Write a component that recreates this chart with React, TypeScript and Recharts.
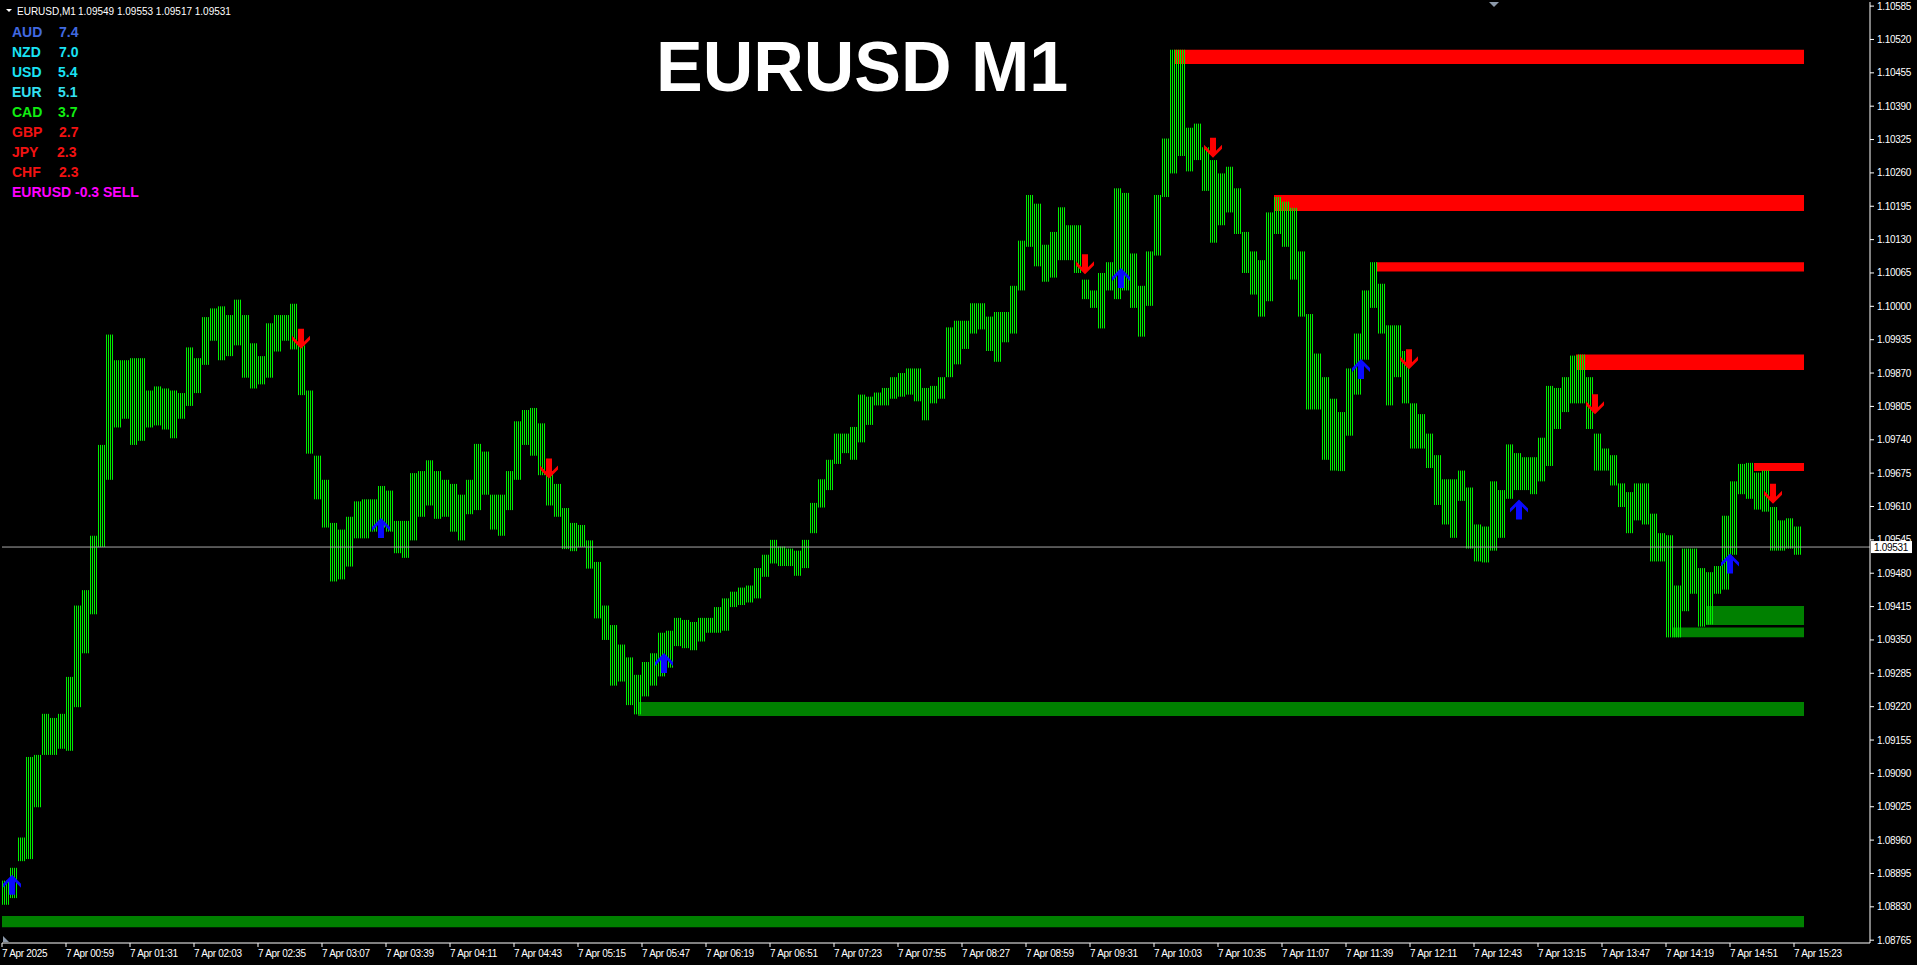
import {
  Bar,
  ComposedChart,
  ReferenceArea,
  ReferenceLine,
  Scatter,
  XAxis,
  YAxis,
} from "recharts";

const W = 1917;
const H = 965;
const UI_FONT = "'Liberation Sans', Arial, sans-serif";

// one aggregated bar every 4 minutes, first bar starts at 00:27
const firstMinute = 27;
const barMinutes = 4;

const highs = [
  1.08881, 1.08906, 1.08965, 1.09122, 1.09126, 1.09206, 1.09198, 1.09206, 1.09278, 1.09417,
  1.09447, 1.09553, 1.0973, 1.09945, 1.09895, 1.09895, 1.09899, 1.09899, 1.09836, 1.09844,
  1.0984, 1.09836, 1.09831, 1.0992, 1.09899, 1.09979, 1.09996, 1.1, 1.09983, 1.10013,
  1.09983, 1.09928, 1.09903, 1.09967, 1.09983, 1.09983, 1.10005, 1.09924, 1.09836, 1.09709,
  1.09662, 1.09578, 1.09565, 1.0959, 1.0962, 1.09624, 1.09624, 1.0965, 1.09641, 1.09582,
  1.09582, 1.09675, 1.09679, 1.097, 1.09679, 1.09662, 1.09654, 1.09633, 1.09662, 1.09732,
  1.09717, 1.09633, 1.09633, 1.09679, 1.09776, 1.09798, 1.09802, 1.09772, 1.09679, 1.09654,
  1.09607, 1.09578, 1.09574, 1.09544, 1.09502, 1.09417, 1.09379, 1.09341, 1.09316, 1.09282,
  1.09307, 1.09324,
  1.09364, 1.09368, 1.09393, 1.09389, 1.09385, 1.09393, 1.09393, 1.09414, 1.09431, 1.09444,
  1.09452, 1.09456, 1.0949, 1.09516, 1.09545, 1.09532, 1.09528, 1.09524, 1.09545, 1.09617,
  1.09663, 1.09701, 1.09752, 1.09752, 1.09765, 1.09828, 1.09824, 1.09832, 1.09841, 1.09862,
  1.0987, 1.09879, 1.09879, 1.09841, 1.09845, 1.09862, 1.09959, 1.09972, 1.09972, 1.10006,
  1.10006, 1.0998, 1.09989, 1.09989, 1.1004, 1.10128, 1.10217, 1.102, 1.1012, 1.10145,
  1.10193, 1.10158, 1.10158, 1.10052, 1.10031, 1.10065, 1.10086, 1.1023, 1.10221, 1.10103,
  1.1004, 1.10107, 1.10217, 1.10327, 1.105, 1.105, 1.10348, 1.10356, 1.1031, 1.10285,
  1.10259, 1.10272, 1.1023, 1.10145, 1.10107, 1.1009, 1.10183, 1.10213,
  1.10204, 1.10192, 1.10107, 1.09985, 1.09908, 1.09862, 1.0982, 1.09794, 1.09879, 1.09947,
  1.10031, 1.10086, 1.10044, 1.09963, 1.09963, 1.09913, 1.09811, 1.0979, 1.09752, 1.0971,
  1.09663, 1.09663, 1.0968, 1.09647, 1.09575, 1.09571, 1.09659, 1.09642, 1.09731, 1.09714,
  1.09706, 1.09706, 1.09744, 1.09845, 1.09841, 1.09862, 1.09904, 1.09906, 1.09862, 1.09752,
  1.09723, 1.0971, 1.09655, 1.09638, 1.09655, 1.09655, 1.09596, 1.09558, 1.09554, 1.09456,
  1.09528, 1.09528, 1.0949, 1.09482, 1.09494, 1.09592, 1.09659, 1.09693, 1.09695, 1.09676,
  1.0968, 1.09609, 1.09583, 1.09587, 1.09571,
];

const lows = [
  1.08834, 1.08847, 1.08919, 1.08923, 1.09024, 1.09126, 1.09126, 1.09138, 1.09134, 1.09219,
  1.09324, 1.094, 1.09531, 1.09662, 1.09764, 1.09781, 1.0973, 1.09738, 1.09764, 1.09768,
  1.0976, 1.09743, 1.09781, 1.09806, 1.09831, 1.09886, 1.09933, 1.09895, 1.09903, 1.09924,
  1.09861, 1.0984, 1.09848, 1.09861, 1.09912, 1.09933, 1.09916, 1.09827, 1.09713, 1.09624,
  1.09569, 1.09464, 1.09468, 1.09493, 1.09548, 1.09548, 1.09561, 1.09569, 1.09561, 1.09519,
  1.0951, 1.09544, 1.0959, 1.09612, 1.09586, 1.0959, 1.09561, 1.09544, 1.09595, 1.09603,
  1.09633, 1.09565, 1.09553, 1.09603, 1.09662, 1.0973, 1.09709, 1.09671, 1.09612, 1.0959,
  1.09527, 1.09523, 1.09531, 1.09489, 1.09392, 1.0935, 1.09261, 1.09269, 1.09223, 1.09205,
  1.0924, 1.09261,
  1.09279, 1.09296, 1.09338, 1.09334, 1.0933, 1.09347, 1.09364, 1.09364, 1.09368, 1.09414,
  1.09418, 1.09423, 1.09431, 1.09473, 1.09499, 1.09494, 1.09494, 1.09475, 1.0949, 1.09558,
  1.09608, 1.09642, 1.09693, 1.09714, 1.09701, 1.09735, 1.09769, 1.09807, 1.09807, 1.0982,
  1.09824, 1.09828, 1.09815, 1.09778, 1.09811, 1.0982, 1.09862, 1.09887, 1.09917, 1.09947,
  1.09955, 1.09913, 1.09892, 1.0993, 1.09947, 1.10031, 1.10116, 1.10078, 1.10048, 1.10056,
  1.1009, 1.1009, 1.10065, 1.10014, 1.09997, 1.09957, 1.10031, 1.10014, 1.10031, 1.09997,
  1.09941, 1.10001, 1.10099, 1.10213, 1.10259, 1.10293, 1.10263, 1.10285, 1.10225, 1.10124,
  1.10158, 1.10183, 1.10141, 1.10065, 1.10023, 1.0998, 1.1001, 1.10141,
  1.10116, 1.10052, 1.0998, 1.09799, 1.09799, 1.09701, 1.0968, 1.09679, 1.09748, 1.09828,
  1.09896, 1.09997, 1.09947, 1.09807, 1.09862, 1.09811, 1.09723, 1.09723, 1.09685, 1.09613,
  1.09575, 1.09549, 1.09621, 1.09528, 1.09503, 1.09501, 1.09524, 1.09549, 1.09625, 1.09642,
  1.09642, 1.09634, 1.09659, 1.09689, 1.09761, 1.09794, 1.09811, 1.09811, 1.09761, 1.0968,
  1.0968, 1.09651, 1.09609, 1.09558, 1.09583, 1.09575, 1.09503, 1.09503, 1.09355, 1.09355,
  1.09406, 1.0944, 1.09376, 1.0938, 1.0944, 1.09448, 1.09516, 1.09634, 1.09625, 1.09604,
  1.096, 1.09524, 1.09524, 1.09528, 1.09516,
];

const lastPrice = 1.09531;

const timeTicks = [
  27, 59, 91, 123, 155, 187, 219, 251, 283, 315, 347, 379, 411, 443, 475,
  507, 539, 571, 603, 635, 667, 699, 731, 763, 795, 827, 859, 891, 923,
];
const timeLabels = [
  "7 Apr 2025", "7 Apr 00:59", "7 Apr 01:31", "7 Apr 02:03", "7 Apr 02:35",
  "7 Apr 03:07", "7 Apr 03:39", "7 Apr 04:11", "7 Apr 04:43", "7 Apr 05:15",
  "7 Apr 05:47", "7 Apr 06:19", "7 Apr 06:51", "7 Apr 07:23", "7 Apr 07:55",
  "7 Apr 08:27", "7 Apr 08:59", "7 Apr 09:31", "7 Apr 10:03", "7 Apr 10:35",
  "7 Apr 11:07", "7 Apr 11:39", "7 Apr 12:11", "7 Apr 12:43", "7 Apr 13:15",
  "7 Apr 13:47", "7 Apr 14:19", "7 Apr 14:51", "7 Apr 15:23",
];

const priceTicks = [
  1.08765, 1.0883, 1.08895, 1.0896, 1.09025, 1.0909, 1.09155, 1.0922, 1.09285, 1.0935,
  1.09415, 1.0948, 1.09545, 1.0961, 1.09675, 1.0974, 1.09805, 1.0987, 1.09935, 1.1,
  1.10065, 1.1013, 1.10195, 1.1026, 1.10325, 1.1039, 1.10455, 1.1052, 1.10585,
];

const zoneEnd = 928;
const resistanceZones = [
  { from: 613, top: 1.105, bottom: 1.10472 },
  { from: 663, top: 1.10217, bottom: 1.10186 },
  { from: 714, top: 1.10086, bottom: 1.10068 },
  { from: 814, top: 1.09906, bottom: 1.09876 },
  { from: 903, top: 1.09695, bottom: 1.09679 },
];
const supportZones = [
  { from: 27, top: 1.08812, bottom: 1.0879 },
  { from: 345, top: 1.09229, bottom: 1.09202 },
  { from: 862, top: 1.09374, bottom: 1.09355 },
  { from: 879, top: 1.09416, bottom: 1.09379 },
];

const buySignals = [
  { t: 32, p: 1.08873 },
  { t: 216.5, p: 1.09568 },
  { t: 358, p: 1.09305 },
  { t: 586.5, p: 1.10055 },
  { t: 706.5, p: 1.09878 },
  { t: 785.5, p: 1.09604 },
  { t: 891, p: 1.09499 },
];
const sellSignals = [
  { t: 176.5, p: 1.09937 },
  { t: 300.5, p: 1.09684 },
  { t: 568.5, p: 1.10082 },
  { t: 632.5, p: 1.10309 },
  { t: 730.5, p: 1.09897 },
  { t: 823.5, p: 1.09809 },
  { t: 912.5, p: 1.09635 },
];

const strengthNames = ["AUD", "NZD", "USD", "EUR", "CAD", "GBP", "JPY", "CHF"];
const strengthValues = ["7.4", "7.0", "5.4", "5.1", "3.7", "2.7", "2.3", "2.3"];
const strengthColors = [
  "#4169e1", "#19e3f5", "#19e3f5", "#33e0f2", "#11ee11", "#f21212", "#f21212", "#f21212",
];
const valueOffsets = [59, 59, 58, 58, 58, 59, 57, 59];

const bars = highs.map((h, i) => ({
  t: firstMinute + barMinutes * i + barMinutes / 2,
  range: [lows[i], h],
}));

// each 4-minute range is drawn as 1px lines on a 2px pitch, like the M1 bars
function StripedBar(props: any) {
  const { x, y, width, height } = props;
  if (height == null || Number.isNaN(y)) return null;
  const left = Math.round(x + width / 2 - 4);
  return (
    <g>
      {[0, 2, 4, 6].map((dx) => (
        <rect key={dx} x={left + dx} y={y} width={1} height={Math.max(height, 1)} fill="#00ee00" />
      ))}
    </g>
  );
}

function PriceTick({ x, y, payload }: any) {
  return (
    <text x={x} y={y} dy={3.5} fill="#fff" fontSize={10} fontFamily={UI_FONT} letterSpacing={-0.3}>
      {Number(payload.value).toFixed(5)}
    </text>
  );
}

function TimeTick({ x, y, payload }: any) {
  const label = timeLabels[timeTicks.indexOf(payload.value)];
  return (
    <text x={x} y={y} dy={8} fill="#fff" fontSize={10} fontFamily={UI_FONT} letterSpacing={-0.3}>
      {label}
    </text>
  );
}

function PriceTag({ viewBox }: any) {
  const x = viewBox.x + viewBox.width + 1;
  const y = viewBox.y;
  return (
    <g>
      <rect x={x} y={y - 6} width={41} height={12} fill="#fff" />
      <text x={x + 3} y={y + 4} fill="#000" fontSize={10} fontFamily={UI_FONT} letterSpacing={-0.3}>
        {lastPrice.toFixed(5)}
      </text>
    </g>
  );
}

function arrowPath(cx: number, cy: number, dir: number) {
  const p = (dx: number, dy: number) => `${cx + dx},${cy + dir * dy}`;
  return `M${p(0, -10)} L${p(9, -1)} L${p(9, 3)} L${p(3, -3)} L${p(3, 10)} L${p(-3, 10)} L${p(-3, -3)} L${p(-9, 3)} L${p(-9, -1)} Z`;
}

const BuyArrow = (props: any) => <path d={arrowPath(props.cx, props.cy, 1)} fill="#0a0aff" />;
const SellArrow = (props: any) => <path d={arrowPath(props.cx, props.cy, -1)} fill="#ff0000" />;

export default function App() {
  return (
    <div style={{ position: "relative", width: W, height: H, background: "#000" }}>
      <style>{"html,body{margin:0;padding:0;background:#000;overflow:hidden}"}</style>
      <ComposedChart width={W} height={H} data={bars} margin={{ top: 2, right: 0, bottom: 0, left: 2 }}>
        <XAxis
          dataKey="t"
          type="number"
          domain={[27, 961]}
          allowDataOverflow
          ticks={timeTicks}
          interval={0}
          height={22}
          tickSize={4}
          tickMargin={2}
          axisLine={{ stroke: "#fff" }}
          tickLine={{ stroke: "#fff" }}
          tick={<TimeTick />}
        />
        <XAxis
          xAxisId="frame"
          orientation="top"
          type="number"
          domain={[0, 1]}
          height={0}
          tick={false}
          tickLine={false}
          axisLine={{ stroke: "#fff" }}
        />
        <YAxis
          orientation="right"
          type="number"
          domain={[1.087595, 1.10593]}
          allowDataOverflow
          ticks={priceTicks}
          interval={0}
          width={47}
          tickSize={4}
          tickMargin={3}
          axisLine={{ stroke: "#fff" }}
          tickLine={{ stroke: "#fff" }}
          tick={<PriceTick />}
        />
        <YAxis
          yAxisId="frame"
          orientation="left"
          type="number"
          domain={[0, 1]}
          width={0}
          tick={false}
          tickLine={false}
          axisLine={{ stroke: "#fff" }}
        />
        {supportZones.map((z, i) => (
          <ReferenceArea
            key={`s${i}`}
            x1={z.from}
            x2={zoneEnd}
            y1={z.bottom}
            y2={z.top}
            fill="#008000"
            fillOpacity={1}
            stroke="none"
          />
        ))}
        {resistanceZones.map((z, i) => (
          <ReferenceArea
            key={`r${i}`}
            x1={z.from}
            x2={zoneEnd}
            y1={z.bottom}
            y2={z.top}
            fill="#ff0000"
            fillOpacity={1}
            stroke="none"
          />
        ))}
        <ReferenceLine y={lastPrice} stroke="#a8a8a8" strokeWidth={1} label={<PriceTag />} />
        <Bar dataKey="range" barSize={8} shape={StripedBar} isAnimationActive={false} />
        <Scatter data={buySignals} dataKey="p" shape={BuyArrow} isAnimationActive={false} />
        <Scatter data={sellSignals} dataKey="p" shape={SellArrow} isAnimationActive={false} />
      </ComposedChart>

      <svg
        width={W}
        height={H}
        style={{ position: "absolute", left: 0, top: 0, pointerEvents: "none" }}
      >
        <polygon points="6,9 12,9 9,12" fill="#fff" />
        <text x={17} y={15} fill="#fff" fontSize={10} fontFamily={UI_FONT}>
          EURUSD,M1
        </text>
        <text x={78} y={15} fill="#fff" fontSize={10} fontFamily={UI_FONT}>
          1.09549 1.09553 1.09517 1.09531
        </text>
        {strengthNames.map((name, i) => (
          <g key={name} fontFamily={UI_FONT} fontSize={14} fontWeight="bold" fill={strengthColors[i]}>
            <text x={12} y={37 + i * 20}>{name}</text>
            <text x={valueOffsets[i]} y={37 + i * 20}>{strengthValues[i]}</text>
          </g>
        ))}
        <text x={12} y={197} fontFamily={UI_FONT} fontSize={14} fontWeight="bold" fill="#ff00ff">
          EURUSD -0.3 SELL
        </text>
        <text x={656} y={91} fontFamily={UI_FONT} fontSize={70} fontWeight="bold" fill="#fff">
          EURUSD M1
        </text>
        <polygon points="1489,2 1499,2 1494,7" fill="#8c99aa" />
        <polygon points="3,936 3,942 9,942" fill="#8c99aa" />
      </svg>
    </div>
  );
}
